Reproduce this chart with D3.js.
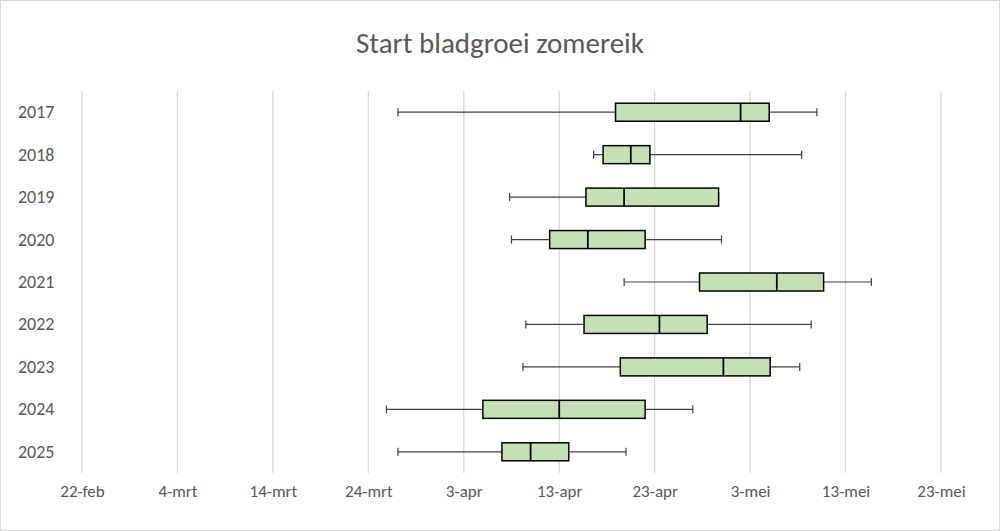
<!DOCTYPE html><html><head><meta charset="utf-8"><script src="https://cdn.jsdelivr.net/npm/d3@7"></script>
<style>body{margin:0;background:#fff;font-family:Calibri,Carlito,"Liberation Sans",sans-serif}</style></head><body><div id="c"></div>
<script>
const years=["2017","2018","2019","2020","2021","2022","2023","2024","2025"];
// day of year
const mins=[86.1,106.6,97.8,98,109.8,99.5,99.2,84.9,86.1];
const q1s=[108.9,107.6,105.8,102,117.7,105.6,109.4,95,97];
const meds=[122,110.5,109.8,106,125.8,113.5,120.2,103,100];
const q3s=[125,112.5,119.7,112,130.7,118.5,125.1,112,104];
const maxs=[130,128.4,119.7,120,135.7,129.4,128.2,117,110];
const tickDays=[53,63,73,83,93,103,113,123,133,143];
const tickLabels=["22-feb","4-mrt","14-mrt","24-mrt","3-apr","13-apr","23-apr","3-mei","13-mei","23-mei"];
const W=1000,H=531;
const svg=d3.select("#c").append("svg").attr("width",W).attr("height",H);
svg.append("rect").attr("x",0.5).attr("y",0.5).attr("width",W-1).attr("height",H-1).attr("fill","#fff").attr("stroke","#d9d9d9");
const x=d3.scaleLinear().domain([53,143]).range([82,941]);
const y=d3.scaleBand().domain(years).range([91,473]);
svg.append("text").attr("x",500).attr("y",53).attr("text-anchor","middle").attr("font-size",29).attr("fill","#595959").text("Start bladgroei zomereik");
svg.selectAll(".g").data(tickDays).join("line").attr("x1",d=>x(d)).attr("x2",d=>x(d)).attr("y1",91).attr("y2",473).attr("stroke","#d9d9d9").attr("stroke-width",1.3);
svg.append("g").attr("transform","translate(0,473)").call(d3.axisBottom(x).tickValues(tickDays).tickFormat((d,i)=>tickLabels[i]).tickSize(0).tickPadding(12))
 .call(g=>{g.select(".domain").remove();g.selectAll("text").attr("font-size",17).attr("fill","#595959").attr("font-family","Calibri,Carlito,'Liberation Sans',sans-serif");});
svg.append("g").selectAll("text").data(years).join("text").attr("x",18).attr("y",d=>y(d)+y.bandwidth()/2+6).attr("font-size",18).attr("fill","#595959").text(d=>d);
const bh=18;
years.forEach((yr,i)=>{
 const cy=y(yr)+y.bandwidth()/2;const g=svg.append("g").attr("stroke","#404040").attr("stroke-width",1.2);
 g.append("line").attr("x1",x(mins[i])).attr("x2",x(maxs[i])).attr("y1",cy).attr("y2",cy);
 [mins[i],maxs[i]].forEach(v=>g.append("line").attr("x1",x(v)).attr("x2",x(v)).attr("y1",cy-4).attr("y2",cy+4));
 g.append("rect").attr("x",x(q1s[i])).attr("y",cy-bh/2).attr("width",x(q3s[i])-x(q1s[i])).attr("height",bh).attr("fill","#c5e0b4").attr("stroke","#000").attr("stroke-width",1.5);
 g.append("line").attr("x1",x(meds[i])).attr("x2",x(meds[i])).attr("y1",cy-bh/2).attr("y2",cy+bh/2).attr("stroke","#000").attr("stroke-width",1.8);
});
</script></body></html>
